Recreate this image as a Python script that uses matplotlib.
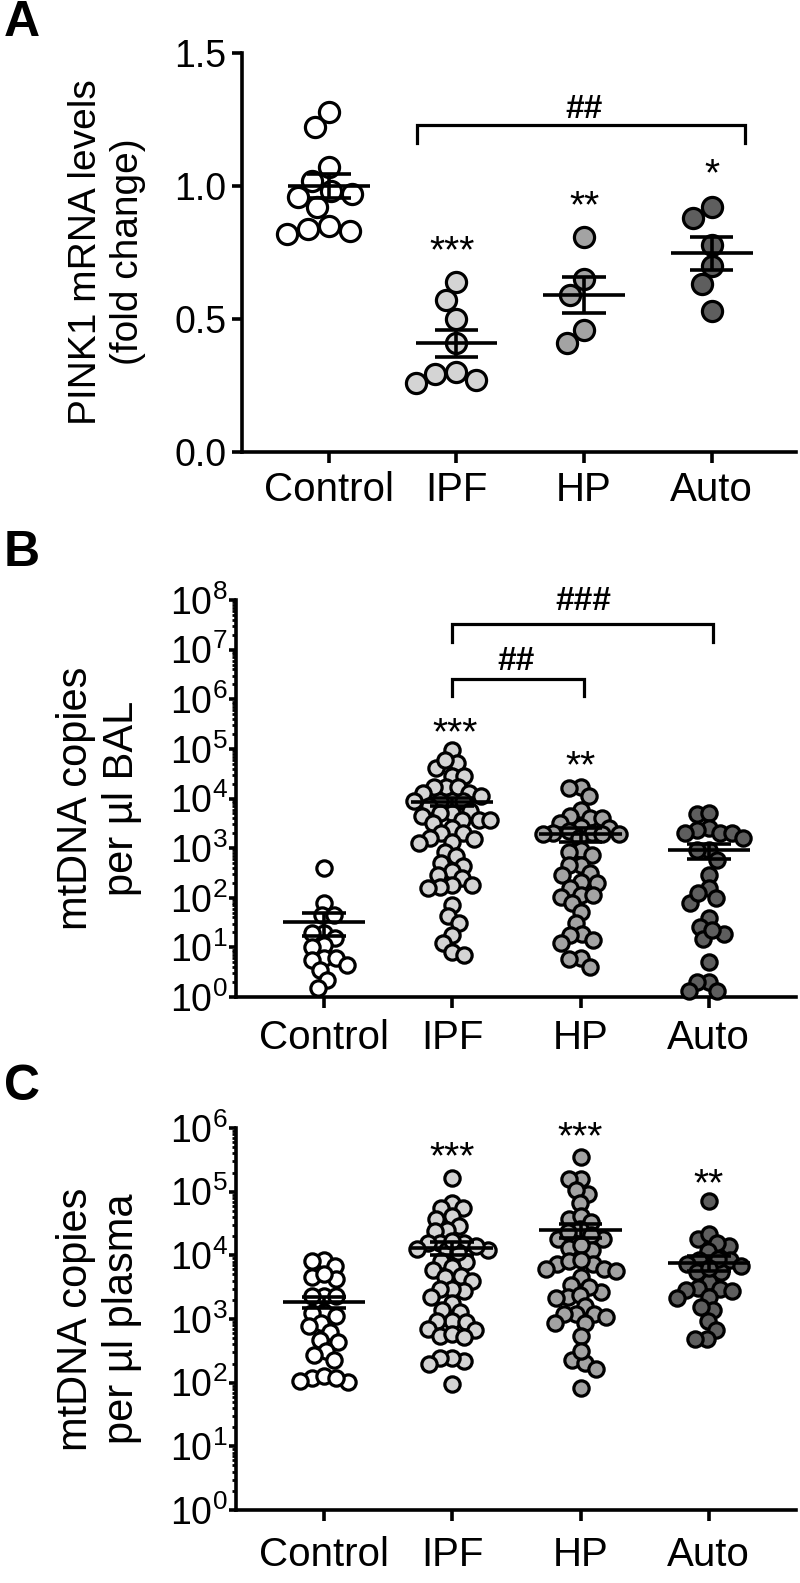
import numpy as np
import matplotlib
matplotlib.use('Agg')
import matplotlib.pyplot as plt
from matplotlib.ticker import NullFormatter, FormatStrFormatter, LogFormatterSciNotation

plt.rcParams['font.family'] = ['Liberation Sans', 'DejaVu Sans']
plt.rcParams['mathtext.fontset'] = 'custom'
plt.rcParams['mathtext.rm'] = 'Liberation Sans'
plt.rcParams['mathtext.it'] = 'Liberation Sans:italic'
plt.rcParams['mathtext.bf'] = 'Liberation Sans:bold'

groups = ['Control', 'IPF', 'HP', 'Auto']
fills = ['white', '#d4d4d4', '#a3a3a3', '#5e5e5e']

# Panel A: PINK1 mRNA (fold change)
pink1_control = [1.28, 1.22, 1.07, 1.02, 0.98, 0.97, 0.96, 0.92, 0.85, 0.84, 0.83, 0.82]
pink1_ipf = [0.64, 0.57, 0.50, 0.41, 0.30, 0.295, 0.27, 0.26]
pink1_hp = [0.81, 0.65, 0.59, 0.46, 0.41]
pink1_auto = [0.92, 0.88, 0.78, 0.70, 0.63, 0.53]
pink1_mean = [1.00, 0.408, 0.59, 0.747]
pink1_sem = [0.044, 0.05, 0.069, 0.063]

# Panel B: mtDNA copies per ul BAL
bal_control = [390, 78, 45, 45, 19.5, 19.5, 15.5, 11, 10, 6.0, 5.6, 6.0, 4.5, 3.5, 2.2, 1.5]
bal_ipf = [95000, 41000, 51000, 60000, 28000, 28000, 17000, 17000, 17000, 13000, 13000,
           11000, 8900, 8900, 8900, 8900, 7100, 5500, 5100, 5100, 4500, 3700, 3700, 3700,
           3200, 2500, 2000, 2000, 1600, 1500, 1350, 1250, 850, 680, 500, 430, 340, 290,
           245, 180, 180, 165, 155, 71, 42, 31, 18, 12, 8.1, 7.1]
bal_hp = [17000, 16000, 11000, 5900, 4400, 4000, 4000, 3200, 2700, 2500, 2200, 2000, 2000,
          1900, 1900, 1900, 1600, 910, 850, 720, 460, 460, 310, 290, 210, 195, 155, 115,
          115, 105, 78, 52, 31, 19, 18, 14, 12, 6.0, 5.8, 4.1]
bal_auto = [4800, 5000, 2500, 2000, 2000, 2300, 2000, 1600, 900, 900, 580, 290, 155, 98,
            79, 123, 39, 26, 19, 15, 22, 5.1, 2.0, 2.0, 1.3, 1.3]
bal_mean = [33, 8700, 1950, 900]
bal_sem = [16, 1700, 600, 300]

# Panel C: mtDNA copies per ul plasma
plasma_control = [8500, 6900, 8100, 4300, 4500, 5000, 2300, 2300, 2300, 1300, 1100, 1250,
                  850, 780, 620, 440, 470, 320, 275, 230, 120, 126, 102, 105, 120]
plasma_ipf = [166000, 66000, 55000, 55000, 42000, 37000, 29000, 25000, 24000, 15500, 15500,
              15500, 12000, 12000, 8100, 7900, 6500, 5800, 4800, 4500, 4000, 2800, 3000,
              3000, 2200, 1800, 1400, 1300, 930, 930, 890, 690, 660, 550, 580, 520, 220,
              245, 245, 195, 95, 14000, 12600, 11200, 16600]
plasma_hp = [355000, 158000, 158000, 93000, 105000, 66000, 37000, 42000, 33000, 26000,
             18000, 18000, 21000, 23000, 13000, 12000, 14500, 7200, 7200, 8100, 8300, 6000,
             5600, 4500, 6000, 3400, 2700, 3200, 2200, 2400, 2100, 1600, 1200, 1200, 1200,
             870, 870, 1070, 540, 230, 205, 165, 310, 81]
plasma_auto = [71000, 18000, 22000, 14000, 15500, 11500, 8500, 8500, 7200, 6900, 5400, 5400,
               3800, 3000, 3100, 2800, 2900, 2100, 2200, 1400, 1550, 930, 660, 490, 490,
               8900, 6300]
plasma_mean = [1850, 13000, 25000, 7600]
plasma_sem = [380, 3000, 6000, 2000]


def swarm_x(ax, pos, vals, min_dist, max_half):
    """Beeswarm-like x positions, worked out in pixel space."""
    vals = np.asarray(vals, dtype=float)
    pts = ax.transData.transform(np.column_stack([np.full(len(vals), pos), vals]))
    ypix = pts[:, 1]
    px_per_unit = ax.transData.transform([[pos + 1, vals[0]]])[0, 0] - pts[0, 0]
    cands = sorted(np.arange(-max_half, max_half + 0.5, 1.0), key=lambda c: (abs(c), c))
    placed = []
    offs = np.zeros(len(vals))
    for i in np.argsort(-ypix, kind='stable'):
        y = ypix[i]
        best, best_d = 0.0, -1.0
        for c in cands:
            d = min([np.hypot(c - px, y - py) for px, py in placed], default=1e9)
            if d >= min_dist:
                best = c
                break
            if d > best_d:
                best, best_d = c, d
        placed.append((best, y))
        offs[i] = best
    return pos + offs / px_per_unit


def draw_group(ax, pos, vals, mean, sem, color, size, min_dist, max_half):
    xs = swarm_x(ax, pos, vals, min_dist, max_half)
    ax.scatter(xs, vals, s=size ** 2, facecolor=color, edgecolor='black',
               linewidth=2.3, zorder=3, clip_on=False)
    kw = dict(color='black', lw=2.6, zorder=4, solid_capstyle='butt', clip_on=False)
    ax.plot([pos - 0.32, pos + 0.32], [mean, mean], **kw)
    ax.plot([pos - 0.17, pos + 0.17], [mean + sem, mean + sem], **kw)
    ax.plot([pos - 0.17, pos + 0.17], [mean - sem, mean - sem], **kw)
    ax.plot([pos, pos], [mean - sem, mean + sem], **kw)


def style_axis(ax, xpad=6):
    for side in ['top', 'right']:
        ax.spines[side].set_visible(False)
    for side in ['left', 'bottom']:
        ax.spines[side].set_linewidth(2.6)
    ax.set_xticks(range(len(groups)))
    ax.set_xticklabels(groups)
    ax.tick_params(axis='x', length=8, width=2.6, labelsize=29, pad=xpad)
    ax.tick_params(axis='y', which='major', width=2.6, labelsize=27)


def star(ax, x, y, text, size=28):
    ax.annotate(text, xy=(x, y), xytext=(0, -0.575 * size), textcoords='offset points',
                ha='center', va='baseline', fontsize=size, annotation_clip=False)


def hashes(ax, x, y, text, size=24):
    ax.annotate(text, xy=(x, y), xytext=(0, -0.36 * size), textcoords='offset points',
                ha='center', va='baseline', fontsize=size, fontweight='bold',
                annotation_clip=False)


def bracket(ax, x1, x2, y_top, y_low):
    ax.plot([x1, x1, x2, x2], [y_low, y_top, y_top, y_low], color='black', lw=2.3,
            clip_on=False, solid_joinstyle='miter')


def log_axis(ax, n_decades):
    ax.set_yscale('log')
    ax.set_ylim(1, 10 ** n_decades)
    # only decades inside the axis range get a label
    ax.set_yticks([10 ** k for k in range(n_decades + 1)])
    ax.set_yticks([m * 10 ** k for k in range(n_decades) for m in range(2, 10)], minor=True)
    ax.yaxis.set_major_formatter(LogFormatterSciNotation())
    ax.yaxis.set_minor_formatter(NullFormatter())
    ax.tick_params(axis='y', which='major', length=5, pad=1, labelsize=27)
    ax.tick_params(axis='y', which='minor', length=3, width=2.0)


W, H = 800, 1583
fig = plt.figure(figsize=(W / 100, H / 100), dpi=100)

# ---- Panel A
axA = fig.add_axes([242 / W, 1 - 452 / H, (796 - 242) / W, (452 - 53) / H])
style_axis(axA)
axA.set_xlim(-0.68, 3.66)
axA.set_ylim(0, 1.5)
axA.set_yticks([0, 0.5, 1.0, 1.5])
axA.yaxis.set_major_formatter(FormatStrFormatter('%.1f'))
axA.tick_params(axis='y', length=7, pad=4)
for i, vals in enumerate([pink1_control, pink1_ipf, pink1_hp, pink1_auto]):
    draw_group(axA, i, vals, pink1_mean[i], pink1_sem[i], fills[i], 14.5, 21, 42)
bracket(axA, 0.69, 3.26, 1.23, 1.16)
hashes(axA, 2.0, 1.30, '##')
star(axA, 0.97, 0.797, '***')
star(axA, 2.0, 0.967, '**')
star(axA, 3.0, 1.086, '*')

# ---- Panel B
axB = fig.add_axes([236 / W, 1 - 997 / H, (796 - 236) / W, (997 - 600) / H])
style_axis(axB, xpad=8)
axB.set_xlim(-0.686, 3.68)
log_axis(axB, 8)
for i, vals in enumerate([bal_control, bal_ipf, bal_hp, bal_auto]):
    draw_group(axB, i, vals, bal_mean[i], bal_sem[i], fills[i], 11, 12, 38)
bracket(axB, 1.0, 3.03, 10 ** 7.52, 10 ** 7.16)
bracket(axB, 1.0, 2.03, 10 ** 6.41, 10 ** 6.07)
hashes(axB, 2.02, 10 ** 8.04, '###')
hashes(axB, 1.5, 10 ** 6.83, '##')
star(axB, 1.02, 10 ** 5.55, '***')
star(axB, 2.0, 10 ** 4.88, '**')

# ---- Panel C
axC = fig.add_axes([236 / W, 1 - 1510 / H, (796 - 236) / W, (1510 - 1128) / H])
style_axis(axC, xpad=11)
axC.set_xlim(-0.686, 3.68)
log_axis(axC, 6)
for i, vals in enumerate([plasma_control, plasma_ipf, plasma_hp, plasma_auto]):
    draw_group(axC, i, vals, plasma_mean[i], plasma_sem[i], fills[i], 11, 12, 42)
star(axC, 1.0, 10 ** 5.72, '***')
star(axC, 2.0, 10 ** 6.03, '***')
star(axC, 3.0, 10 ** 5.30, '**')

# y axis titles and panel letters
lab = dict(rotation=90, ha='center', va='center', rotation_mode='anchor',
           multialignment='center', linespacing=1.2)
fig.text(107 / W, 1 - 252 / H, 'PINK1 mRNA levels\n(fold change)', fontsize=28, **lab)
fig.text(99 / W, 1 - 798 / H, 'mtDNA copies\nper \u00b5l BAL', fontsize=30, **lab)
fig.text(99 / W, 1 - 1319 / H, 'mtDNA copies\nper \u00b5l plasma', fontsize=30, **lab)
for letter, ytop in [('A', 0), ('B', 530), ('C', 1064)]:
    fig.text(4 / W, 1 - ytop / H, letter, fontsize=36, fontweight='bold', va='top', ha='left')

fig.savefig('out.png', dpi=100)
